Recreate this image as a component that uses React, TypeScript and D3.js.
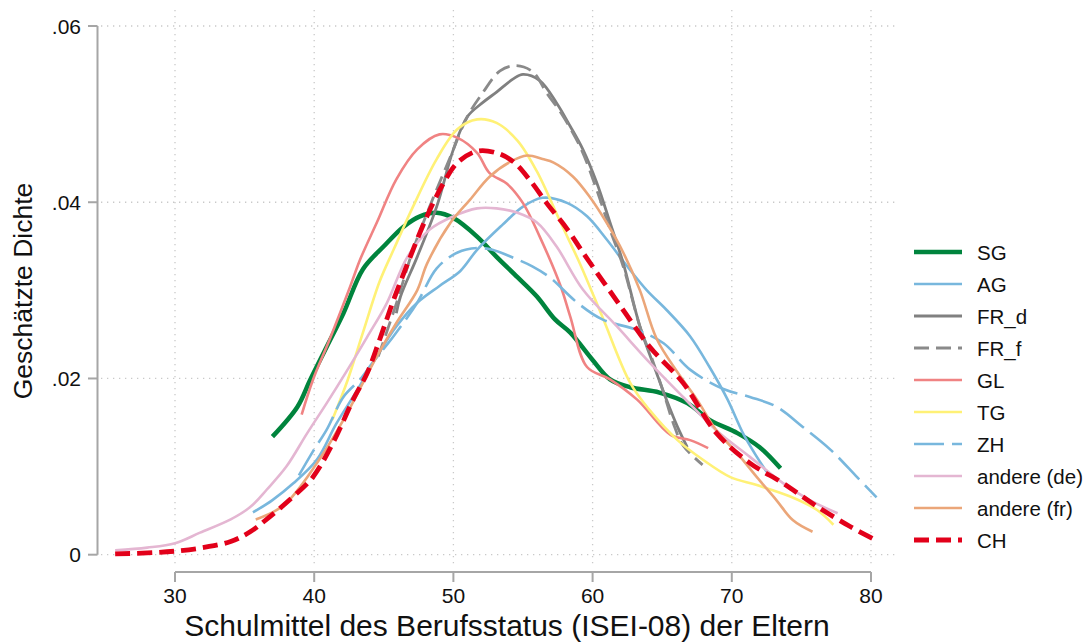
import React from "react";
import * as d3 from "d3";

// ---- data ----
const xTicks = [30, 40, 50, 60, 70, 80];
const yTicks = [0, 0.02, 0.04, 0.06];
const yTickLabels = ["0", ".02", ".04", ".06"];

const sgX = [37.0, 38.8, 39.7, 40.9, 42.1, 43.5, 45.0, 46.4, 47.6, 48.8, 50.0, 51.7, 53.1, 54.6, 56.0, 57.3, 58.4, 60.0, 61.25, 62.7, 64.8, 66.8, 68.4, 70.4, 72.0, 73.5];
const sgY = [0.0134, 0.0168, 0.0198, 0.0236, 0.0274, 0.0324, 0.035, 0.0372, 0.0384, 0.0388, 0.0382, 0.0361, 0.0338, 0.0315, 0.0293, 0.0267, 0.0252, 0.0221, 0.0199, 0.019, 0.0184, 0.0172, 0.0153, 0.0138, 0.0122, 0.0098];

const agX = [35.6, 37.0, 38.5, 40.2, 41.6, 43.1, 44.5, 45.9, 47.4, 49.0, 50.5, 51.7, 53.5, 55.0, 56.4, 58.2, 59.6, 61.0, 62.5, 63.9, 65.3, 67.0, 68.4, 69.7, 70.8, 71.8, 72.5];
const agY = [0.0048, 0.0062, 0.0081, 0.0108, 0.0149, 0.0187, 0.0225, 0.0259, 0.0286, 0.0305, 0.0322, 0.0346, 0.0374, 0.0395, 0.0405, 0.0399, 0.0384, 0.0358, 0.0327, 0.03, 0.0278, 0.0248, 0.0213, 0.0176, 0.0138, 0.0111, 0.0094];

const frdX = [45.9, 46.2, 47.4, 48.8, 50.0, 51.0, 52.1, 53.1, 54.3, 55.0, 56.2, 57.4, 58.4, 59.3, 60.3, 61.25, 62.2, 63.4, 64.6, 65.3, 66.1, 66.8];
const frdY = [0.0274, 0.0293, 0.0338, 0.0395, 0.046, 0.0497, 0.0513, 0.0525, 0.054, 0.0545, 0.0538, 0.0513, 0.0486, 0.046, 0.0422, 0.0377, 0.0331, 0.0259, 0.0206, 0.0176, 0.0145, 0.0122];

const frfX = [44.6, 45.9, 47.1, 48.5, 49.8, 51.0, 52.1, 53.35, 54.5, 55.7, 56.7, 57.7, 59.1, 60.3, 61.25, 62.2, 63.4, 64.3, 65.1, 65.8, 66.5, 67.9];
const frfY = [0.0225, 0.0285, 0.0346, 0.0403, 0.0452, 0.0497, 0.0524, 0.0549, 0.0555, 0.0548, 0.0524, 0.0502, 0.0463, 0.0414, 0.0369, 0.0327, 0.0259, 0.0221, 0.0184, 0.0149, 0.0124, 0.0102];

const glX = [39.1, 39.9, 41.1, 42.6, 43.3, 44.5, 45.9, 47.4, 49.0, 50.3, 51.7, 52.6, 53.85, 55.0, 56.2, 57.7, 58.4, 59.6, 61.25, 63.2, 65.6, 67.0, 68.3];
const glY = [0.0159, 0.0198, 0.0244, 0.0305, 0.0335, 0.0377, 0.0426, 0.046, 0.0477, 0.0473, 0.0456, 0.0433, 0.0421, 0.0399, 0.0361, 0.0305, 0.027, 0.0213, 0.0199, 0.0176, 0.0136, 0.013, 0.0121];

const tgX = [41.3, 42.4, 43.5, 44.7, 45.7, 47.1, 48.8, 50.3, 51.7, 53.1, 54.6, 56.0, 57.7, 59.1, 60.7, 62.7, 64.1, 66.1, 67.9, 69.9, 71.8, 74.2, 76.1, 77.3];
const tgY = [0.0153, 0.0198, 0.0252, 0.031, 0.0346, 0.0395, 0.0449, 0.0483, 0.0494, 0.049, 0.047, 0.0435, 0.0377, 0.033, 0.027, 0.0195, 0.0164, 0.013, 0.0108, 0.0088, 0.0079, 0.0066, 0.0051, 0.0034];

const zhX = [38.9, 39.9, 40.9, 42.1, 43.3, 44.2, 45.7, 47.4, 48.8, 50.3, 51.7, 52.8, 54.3, 55.7, 56.9, 58.9, 60.7, 63.2, 65.1, 67.0, 69.4, 71.3, 73.2, 75.1, 77.1, 79.0, 80.4];
const zhY = [0.009, 0.0117, 0.0142, 0.0179, 0.0199, 0.0218, 0.0248, 0.0286, 0.0325, 0.0343, 0.0348, 0.0346, 0.0337, 0.0327, 0.0315, 0.0286, 0.0267, 0.0255, 0.024, 0.021, 0.0188, 0.0179, 0.0168, 0.0145, 0.0119, 0.0088, 0.0065];

const deX = [25.7, 28, 30, 31.8, 34, 35.4, 36.6, 38.0, 39.5, 40.9, 42.4, 43.8, 45.2, 46.7, 48.3, 50.0, 51.7, 53.1, 54.6, 56.0, 57.4, 59.3, 61.75, 64.1, 66.5, 68.9, 71.3, 73.7, 75.6, 77.6];
const deY = [0.0005, 0.0008, 0.0013, 0.0025, 0.004, 0.0054, 0.0074, 0.01, 0.0138, 0.0172, 0.021, 0.0247, 0.0285, 0.0338, 0.0369, 0.0384, 0.0393, 0.0393, 0.0388, 0.0377, 0.035, 0.0301, 0.0259, 0.0218, 0.0179, 0.0141, 0.0111, 0.0081, 0.0062, 0.0047];

const frX = [35.8, 37.8, 40.2, 42.1, 43.5, 44.5, 45.9, 47.4, 48.1, 49.8, 51.2, 52.6, 54.1, 55.3, 56.4, 57.2, 58.6, 59.8, 61.0, 62.2, 63.4, 64.6, 66.1, 67.5, 68.9, 70.4, 71.8, 73.2, 74.4, 75.8];
const frY = [0.004, 0.0056, 0.0104, 0.0153, 0.0195, 0.0225, 0.0263, 0.03, 0.033, 0.0377, 0.0403, 0.0429, 0.0446, 0.0453, 0.0449, 0.0445, 0.0429, 0.0406, 0.0377, 0.0343, 0.03, 0.0245, 0.0207, 0.0176, 0.0141, 0.0115, 0.0088, 0.0062, 0.0039, 0.0026];

const chX = [25.7, 28, 30, 32, 34, 35.4, 36.8, 38.5, 39.9, 41.35, 42.8, 43.8, 44.7, 45.7, 46.9, 48.1, 49.3, 50.3, 51.7, 53.1, 54.3, 55.5, 56.7, 58.2, 59.3, 61.7, 64.1, 66.5, 68.9, 71.3, 73.7, 76.1, 78.5, 80.4];
const chY = [0.0001, 0.0002, 0.0004, 0.0008, 0.0015, 0.0026, 0.0043, 0.0066, 0.0088, 0.0127, 0.0176, 0.0206, 0.0244, 0.0289, 0.0338, 0.0384, 0.0422, 0.0445, 0.0458, 0.0456, 0.0446, 0.0425, 0.0399, 0.0369, 0.0343, 0.0289, 0.0236, 0.0195, 0.0138, 0.0104, 0.0081, 0.0055, 0.0032, 0.0016];

const seriesNames = ["SG", "AG", "FR_d", "FR_f", "GL", "TG", "ZH", "andere (de)", "andere (fr)", "CH"];
const seriesX = [sgX, agX, frdX, frfX, glX, tgX, zhX, deX, frX, chX];
const seriesY = [sgY, agY, frdY, frfY, glY, tgY, zhY, deY, frY, chY];

// ---- styles ----
const styles = [
  { color: "#00843d", width: 4.5, dash: "" },
  { color: "#78b7dd", width: 2.6, dash: "" },
  { color: "#808080", width: 2.8, dash: "" },
  { color: "#8a8a8a", width: 2.8, dash: "15 7" },
  { color: "#f08383", width: 2.6, dash: "" },
  { color: "#fff176", width: 2.6, dash: "" },
  { color: "#78b7dd", width: 2.6, dash: "30 8" },
  { color: "#e4b6d2", width: 2.6, dash: "" },
  { color: "#eba679", width: 2.6, dash: "" },
  { color: "#e2001a", width: 4.8, dash: "15 7" },
];

const FONT = "'Liberation Sans', Arial, Helvetica, sans-serif";

export default function App() {
  const x = d3.scaleLinear().domain([30, 80]).range([175, 871]);
  const y = d3.scaleLinear().domain([0, 0.06]).range([554.7, 26]);
  const line = d3
    .line<[number, number]>()
    .x((d) => x(d[0]))
    .y((d) => y(d[1]))
    .curve(d3.curveCatmullRom.alpha(0.5));

  const plotLeft = 101;
  const plotRight = 895;
  const plotTop = 10;
  const plotBottom = 566;
  const axisY = 572;
  const axisX = 97.5;
  const gridColor = "#c9c9c9";
  const axisColor = "#a6a6a6";

  const legendX0 = 914;
  const legendX1 = 962;
  const legendTextX = 977;
  const legendY0 = 252;
  const legendStep = 32;

  return (
    <svg
      width={1089}
      height={642}
      style={{ position: "absolute", left: 0, top: 0, background: "#fff" }}
      fontFamily={FONT}
    >
      <rect x={0} y={0} width={1089} height={642} fill="#ffffff" />
      {/* grid */}
      {xTicks.map((t) => (
        <line
          key={"gx" + t}
          x1={x(t)}
          x2={x(t)}
          y1={plotTop}
          y2={plotBottom}
          stroke={gridColor}
          strokeWidth={1.3}
          strokeDasharray="1.3 4.7"
        />
      ))}
      {yTicks.map((t) => (
        <line
          key={"gy" + t}
          x1={plotLeft}
          x2={plotRight}
          y1={y(t)}
          y2={y(t)}
          stroke={gridColor}
          strokeWidth={1.3}
          strokeDasharray="1.3 4.7"
        />
      ))}
      {/* axes */}
      <line x1={axisX} x2={axisX} y1={y(0.06)} y2={y(0)} stroke={axisColor} strokeWidth={2} />
      {yTicks.map((t, i) => (
        <g key={"yt" + t}>
          <line x1={88} x2={axisX} y1={y(t)} y2={y(t)} stroke={axisColor} strokeWidth={2} />
          <text x={81} y={y(t) + 7.5} textAnchor="end" fontSize={21} fill="#111">
            {yTickLabels[i]}
          </text>
        </g>
      ))}
      <line x1={x(30)} x2={x(80)} y1={axisY} y2={axisY} stroke={axisColor} strokeWidth={2} />
      {xTicks.map((t) => (
        <g key={"xt" + t}>
          <line x1={x(t)} x2={x(t)} y1={axisY} y2={axisY + 10} stroke={axisColor} strokeWidth={2} />
          <text x={x(t)} y={603} textAnchor="middle" fontSize={21} fill="#111">
            {t}
          </text>
        </g>
      ))}
      <text x={507} y={636} textAnchor="middle" fontSize={30} fill="#111">
        Schulmittel des Berufsstatus (ISEI-08) der Eltern
      </text>
      <text
        transform={`translate(32,291) rotate(-90)`}
        textAnchor="middle"
        fontSize={26.5}
        fill="#111"
      >
        Geschätzte Dichte
      </text>
      {/* curves */}
      {seriesNames.map((name, i) => {
        const pts = seriesX[i].map((v, k) => [v, seriesY[i][k]] as [number, number]);
        const s = styles[i];
        return (
          <path
            key={name}
            d={line(pts) || ""}
            fill="none"
            stroke={s.color}
            strokeWidth={s.width}
            strokeDasharray={s.dash || undefined}
            strokeLinejoin="round"
          />
        );
      })}
      {/* legend */}
      {seriesNames.map((name, i) => {
        const s = styles[i];
        const ly = legendY0 + i * legendStep;
        return (
          <g key={"lg" + name}>
            <line
              x1={legendX0}
              x2={legendX1}
              y1={ly}
              y2={ly}
              stroke={s.color}
              strokeWidth={s.width}
              strokeDasharray={s.dash || undefined}
            />
            <text x={legendTextX} y={ly + 7.5} fontSize={20.5} fill="#111">
              {name}
            </text>
          </g>
        );
      })}
    </svg>
  );
}
